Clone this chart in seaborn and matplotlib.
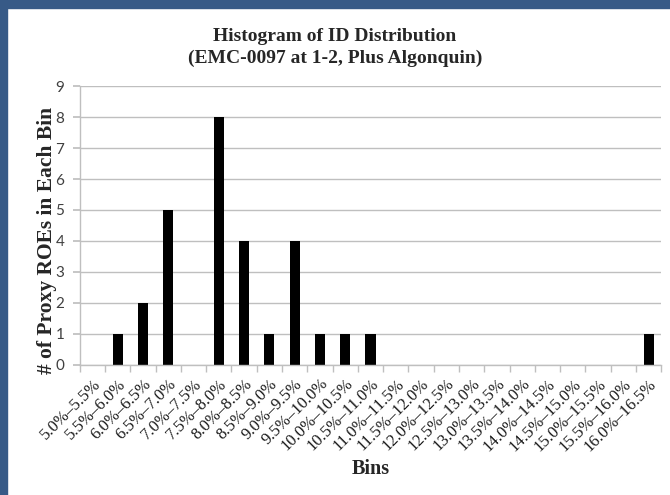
import numpy as np
import pandas as pd
import matplotlib
matplotlib.use("Agg")
import matplotlib.pyplot as plt
import matplotlib.ticker as mticker
from matplotlib.patches import Rectangle
import seaborn as sns

# ── data ─────────────────────────────────────────────────────────────
bin_starts = [5.0, 5.5, 6.0, 6.5, 7.0, 7.5, 8.0, 8.5, 9.0, 9.5, 10.0, 10.5,
              11.0, 11.5, 12.0, 12.5, 13.0, 13.5, 14.0, 14.5, 15.0, 15.5, 16.0]
bin_labels = [f"{b:.1f}%\u2013{b + 0.5:.1f}%" for b in bin_starts]
counts = [0, 1, 2, 5, 0, 8, 4, 1, 4, 1, 1, 1,
          0, 0, 0, 0, 0, 0, 0, 0, 0, 0, 1]

df = pd.DataFrame({"Bins": bin_labels, "Count": counts})

# ── style ────────────────────────────────────────────────────────────
sns.set_theme(style="white")
SERIF = ["Liberation Serif", "DejaVu Serif"]
SANS = ["Lato", "DejaVu Sans"]
GRID = "#bfbfbf"

fig = plt.figure(figsize=(6.7, 4.95), dpi=100)
fig.patch.set_facecolor("white")
ax = fig.add_axes([0.119, 0.263, 0.868, 0.563])

sns.barplot(data=df, x="Bins", y="Count", color="black", width=0.4,
            saturation=1, linewidth=0, ax=ax)

ax.set_xlim(-0.5, len(bin_labels) - 0.5)
ax.set_ylim(0, 9)
ax.yaxis.set_major_locator(mticker.MultipleLocator(1))
ax.set_axisbelow(True)
ax.grid(axis="y", color=GRID, linewidth=1)

for s in ["top", "right"]:
    ax.spines[s].set_visible(False)
for s in ["left", "bottom"]:
    ax.spines[s].set_color(GRID)
    ax.spines[s].set_linewidth(1)

# tick marks at bin boundaries, labels at centres
ax.set_xticks(np.arange(len(bin_labels)))
ax.set_xticklabels(bin_labels, rotation=45, ha="right",
                   rotation_mode="anchor", family=SERIF, fontsize=12,
                   color="#1a1a1a")
ax.set_xticks(np.arange(len(bin_labels) + 1) - 0.5, minor=True)
ax.tick_params(axis="x", which="major", length=0, pad=8)
ax.tick_params(axis="x", which="minor", length=5, color=GRID, bottom=True)
ax.tick_params(axis="y", length=5, color=GRID, left=True, labelsize=11,
               labelcolor="#404040", pad=6)
for t in ax.get_yticklabels():
    t.set_family(SANS)

ax.set_xlabel("Bins", family=SERIF, fontweight="bold", fontsize=14.5,
              labelpad=3)
ax.set_ylabel("")
fig.text(47 / 670, 1 - 240 / 495, "# of Proxy ROEs in Each Bin", rotation=90,
         ha="center", va="center", family=SERIF, fontweight="bold",
         fontsize=15.5)

fig.text(0.5, 0.904, "Histogram of ID Distribution\n(EMC-0097 at 1-2, Plus Algonquin)",
         ha="center", va="center", family=SERIF, fontweight="bold",
         fontsize=14, linespacing=1.3)

# slide frame
blue = "#375a87"
fig.patches.append(Rectangle((0, 1 - 8 / 495), 1, 8 / 495, transform=fig.transFigure,
                             color=blue, zorder=10))
fig.patches.append(Rectangle((0, 0), 7 / 670, 1, transform=fig.transFigure,
                             color=blue, zorder=10))

fig.savefig("out.png", dpi=100)
